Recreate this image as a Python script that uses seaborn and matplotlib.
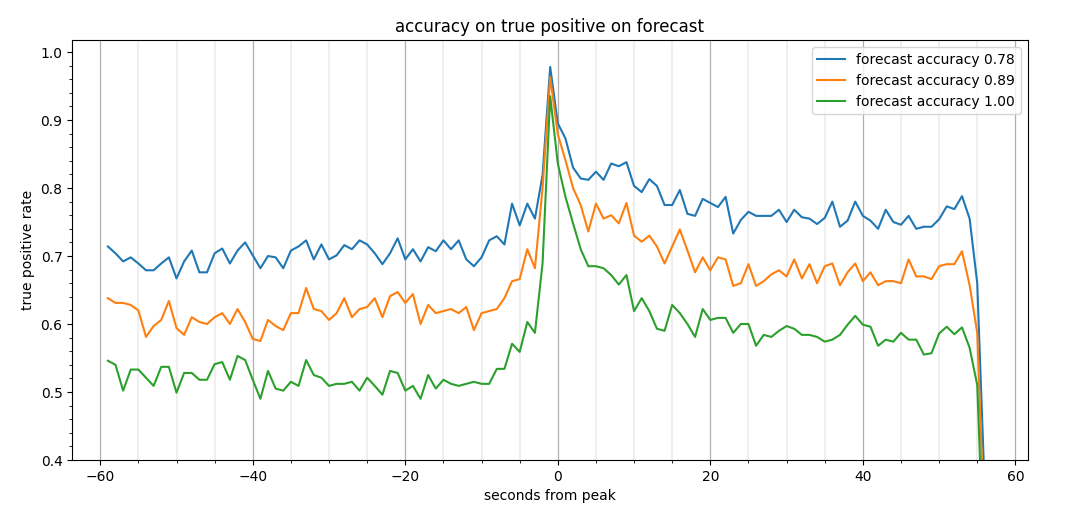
import numpy as np
import pandas as pd
import matplotlib
matplotlib.use("Agg")
import matplotlib.pyplot as plt
from matplotlib.ticker import MultipleLocator
import seaborn as sns

seconds = list(range(-59, 57))

acc_078 = [
    .714, .704, .692, .698, .689, .679, .679, .689, .698, .667, .692, .708, .676, .676, .704,
    .711, .689, .708, .720, .701, .682, .700, .698, .682, .708, .714, .723, .695, .717, .695, .701,
    .716, .710, .723, .717, .704, .688, .704, .726, .695, .710, .692, .713, .707, .723, .710, .723,
    .695, .685, .698, .723, .729, .717, .777, .745, .777, .755, .819, .978, .895, .873, .830, .814,
    .812, .824, .812, .836, .832, .838, .803, .794, .813, .803, .775, .775, .797, .762, .759, .784,
    .778, .772, .787, .733, .753, .765, .759, .759, .759, .768, .750, .768, .757, .755, .747,
    .756, .780, .743, .752, .780, .759, .752, .740, .768, .750, .746, .759, .740, .743, .743, .754,
    .773, .769, .788, .755, .660, .350,
]

acc_089 = [
    .638, .631, .631, .628, .620, .581, .597, .606, .634, .594, .584, .610, .603, .600, .610,
    .616, .600, .622, .603, .578, .575, .606, .597, .591, .616, .616, .653, .622, .619, .606, .616,
    .638, .610, .622, .625, .638, .610, .641, .647, .631, .644, .600, .628, .616, .619, .622, .616,
    .625, .591, .616, .619, .622, .638, .663, .666, .710, .682, .800, .963, .879, .841, .800, .775,
    .736, .777, .755, .760, .748, .778, .730, .721, .730, .714, .689, .714, .739, .708, .676, .698,
    .679, .698, .695, .656, .660, .688, .656, .663, .673, .679, .670, .695, .667, .688, .660,
    .685, .689, .657, .676, .689, .663, .676, .657, .663, .663, .660, .695, .670, .670, .666, .685,
    .688, .688, .707, .657, .587, .280,
]

acc_100 = [
    .546, .540, .502, .533, .533, .521, .509, .537, .537, .499, .528, .528, .518, .518, .541,
    .544, .518, .553, .547, .518, .490, .531, .505, .502, .515, .509, .547, .525, .521, .509, .512,
    .512, .515, .502, .521, .509, .496, .531, .528, .502, .509, .490, .525, .505, .518, .512, .509,
    .512, .515, .512, .512, .534, .534, .571, .559, .603, .587, .689, .935, .836, .787, .748, .710,
    .685, .685, .682, .672, .658, .672, .619, .638, .619, .593, .590, .628, .616, .600, .581, .622,
    .606, .609, .609, .587, .600, .600, .568, .584, .581, .590, .597, .593, .584, .584, .581,
    .574, .577, .584, .599, .612, .599, .596, .568, .577, .574, .587, .577, .577, .555, .557, .586,
    .596, .585, .595, .565, .510, .210,
]

labels = ["forecast accuracy 0.78", "forecast accuracy 0.89", "forecast accuracy 1.00"]
series = [acc_078, acc_089, acc_100]

frames = []
for lab, vals in zip(labels, series):
    frames.append(pd.DataFrame({"seconds": seconds, "rate": vals, "series": lab}))
df = pd.concat(frames, ignore_index=True)

fig = plt.figure(figsize=(10.8, 5.07), dpi=100)
ax = fig.add_axes([0.0669, 0.0927, 0.8847, 0.8278])

palette = ["#1f77b4", "#ff7f0e", "#2ca02c"]
for lab, col in zip(labels, palette):
    sub = df[df["series"] == lab]
    sns.lineplot(data=sub, x="seconds", y="rate", color=col, label=lab, ax=ax, linewidth=1.5)

ax.set_xlim(-63.67, 61.62)
ax.set_ylim(0.4, 1.0172)
ax.xaxis.set_major_locator(MultipleLocator(20))
ax.xaxis.set_minor_locator(MultipleLocator(5))
ax.yaxis.set_major_locator(MultipleLocator(0.1))
ax.yaxis.set_minor_locator(MultipleLocator(0.02))
ax.grid(axis="x", which="major", color="#b0b0b0", linewidth=0.9)
ax.grid(axis="x", which="minor", color="#b0b0b0", alpha=0.2, linewidth=1.5)
ax.set_axisbelow(True)

ax.set_title("accuracy on true positive on forecast", fontsize=12)
ax.set_xlabel("seconds from peak")
ax.set_ylabel("true positive rate")
ax.legend(loc="upper right")

fig.savefig("out.png", dpi=100)
